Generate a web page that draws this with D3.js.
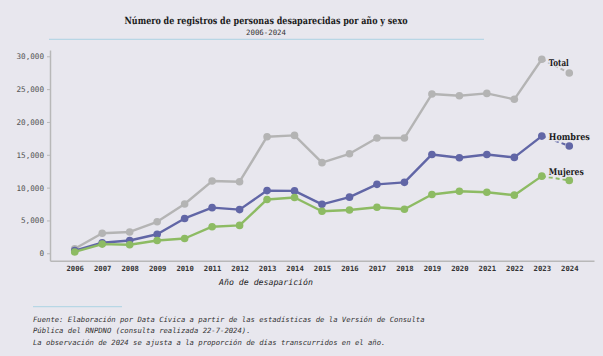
<!DOCTYPE html>
<html>
<head>
<meta charset="utf-8">
<script src="https://cdn.jsdelivr.net/npm/d3@7"></script>
<style>
  html, body { margin: 0; padding: 0; background: #e8e7ee; }
  svg { display: block; text-rendering: geometricPrecision; }
</style>
</head>
<body>
<svg id="chart" width="603" height="356"></svg>
<script>
const years = [2006,2007,2008,2009,2010,2011,2012,2013,2014,2015,2016,2017,2018,2019,2020,2021,2022,2023,2024];
const total    = [700,3050,3250,4800,7500,11000,10900,17750,17950,13800,15150,17550,17550,24250,24000,24350,23450,29550,27450];
const hombres  = [400,1600,1950,2900,5300,6950,6650,9550,9500,7450,8550,10500,10800,15050,14550,15050,14600,17850,16350];
const mujeres  = [200,1400,1300,1950,2250,4050,4250,8200,8500,6400,6600,7000,6700,8950,9450,9300,8850,11750,11100];
const seriesNames = ["Total","Hombres","Mujeres"];
const seriesColors = ["#b4b4b4","#6166a6","#8dbb63"];
const yTicks = [0,5000,10000,15000,20000,25000,30000];
const title = "Número de registros de personas desaparecidas por año y sexo";
const subtitle = "2006-2024";
const xTitle = "Año de desaparición";
const notes = [
  "Fuente: Elaboración por Data Cívica a partir de las estadísticas de la Versión de Consulta",
  "Pública del RNPDNO (consulta realizada 22-7-2024).",
  "La observación de 2024 se ajusta a la proporción de días transcurridos en el año."
];

const bg = "#e8e7ee";
const svg = d3.select("#chart");
svg.append("rect").attr("width",603).attr("height",356).attr("fill",bg);

const mono = "'DejaVu Sans Mono', monospace";
const serif = "'DejaVu Serif', serif";

function fit(sel, target) {
  const n = sel.node();
  const fs = +sel.attr("font-size");
  const w = n.getComputedTextLength();
  if (w > 0) sel.attr("font-size", fs * target / w);
}
function condense(sel, target) {
  sel.attr("textLength", target).attr("lengthAdjust","spacingAndGlyphs");
}

const x = d3.scalePoint().domain(years).range([50, 594]).padding(0.9);
const y = d3.scaleLinear().domain([-1130, 30960]).range([260.7, 50]);

// Title
const tt = svg.append("text").attr("x",266).attr("y",23.5).attr("text-anchor","middle")
  .attr("font-family",serif).attr("font-weight","bold").attr("font-size",9.8)
  .attr("fill","#1a1a1a").text(title);
condense(tt, 283);

const st = svg.append("text").attr("x",266).attr("y",35).attr("text-anchor","middle")
  .attr("font-family",mono).attr("font-size",7.6).attr("fill","#333").text(subtitle);
fit(st, 40);
svg.append("line").attr("x1",49).attr("x2",484).attr("y1",39.3).attr("y2",39.3)
  .attr("stroke","#acd3e3").attr("stroke-width",1);

// Y axis
const yAxis = svg.append("g").attr("transform","translate(50,0)")
  .call(d3.axisLeft(y).tickValues(yTicks).tickSize(3).tickSizeOuter(0).tickPadding(3)
    .tickFormat(d3.format(",")));
yAxis.select(".domain").attr("stroke","#b8b8b8").attr("stroke-width",1.5);
yAxis.selectAll(".tick line").attr("stroke","#b8b8b8");
yAxis.selectAll(".tick text").attr("font-family",mono).attr("font-size",7.6).attr("fill","#555");
{
  const t = yAxis.selectAll(".tick text").filter(d => d === 30000);
  const w = t.node().getComputedTextLength();
  yAxis.selectAll(".tick text").attr("font-size", 7.6 * 27.6 / w);
}

// X axis
const xAxis = svg.append("g").attr("transform","translate(0,260.7)")
  .call(d3.axisBottom(x).tickSize(0).tickSizeOuter(0).tickPadding(5));
xAxis.select(".domain").attr("stroke","#b8b8b8").attr("stroke-width",1.5);
xAxis.selectAll(".tick text").attr("font-family",mono).attr("font-size",7.8)
  .attr("font-weight","bold").attr("fill","#333");
{
  const w = xAxis.select(".tick text").node().getComputedTextLength();
  xAxis.selectAll(".tick text").attr("font-size", 7.8 * 17.5 / w);
}

const xt = svg.append("text").attr("x",266).attr("y",284.5).attr("text-anchor","middle")
  .attr("font-family",mono).attr("font-style","italic").attr("font-size",8.3)
  .attr("fill","#222").text(xTitle);
fit(xt, 94);

// Series
const data = [total, hombres, mujeres];
const line = d3.line().x(d => x(d[0])).y(d => y(d[1]));
data.forEach((vals, i) => {
  const pts = years.map((yr, j) => [yr, vals[j]]);
  const g = svg.append("g");
  g.append("path").datum(pts.slice(0, pts.length - 1)).attr("d", line)
    .attr("fill","none").attr("stroke",seriesColors[i]).attr("stroke-width",2.4)
    .attr("stroke-linejoin","round");
  g.append("path").datum(pts.slice(pts.length - 2)).attr("d", line)
    .attr("fill","none").attr("stroke",seriesColors[i]).attr("stroke-width",2)
    .attr("stroke-dasharray","4,3");
  g.selectAll("circle").data(pts).join("circle")
    .attr("cx", d => x(d[0])).attr("cy", d => y(d[1])).attr("r",3.8)
    .attr("fill",seriesColors[i]);
});

// Labels
const labelWidths = [20, 41, 35];
const labelDy = [6.4, 4.3, -1];
data.forEach((vals, i) => {
  const j = years.length - 2;
  const lt = svg.append("text").attr("x", x(years[j]) + 7).attr("y", y(vals[j]) + labelDy[i])
    .attr("font-family",serif).attr("font-weight","bold").attr("font-size",9.2)
    .attr("fill","#1a1a1a").attr("stroke",bg).attr("stroke-width",3)
    .attr("paint-order","stroke").text(seriesNames[i]);
  condense(lt, labelWidths[i]);
});

// Notes
svg.append("line").attr("x1",33).attr("x2",122).attr("y1",306.7).attr("y2",306.7)
  .attr("stroke","#acd3e3").attr("stroke-width",1);
const charW = 4.35;
notes.forEach((t, i) => {
  svg.append("text").attr("x",33).attr("y",322 + i*11.3)
    .attr("font-family",mono).attr("font-style","italic").attr("font-size",7.2)
    .attr("fill","#333")
    .attr("textLength", t.length * charW).attr("lengthAdjust","spacingAndGlyphs")
    .text(t);
});
</script>
</body>
</html>
